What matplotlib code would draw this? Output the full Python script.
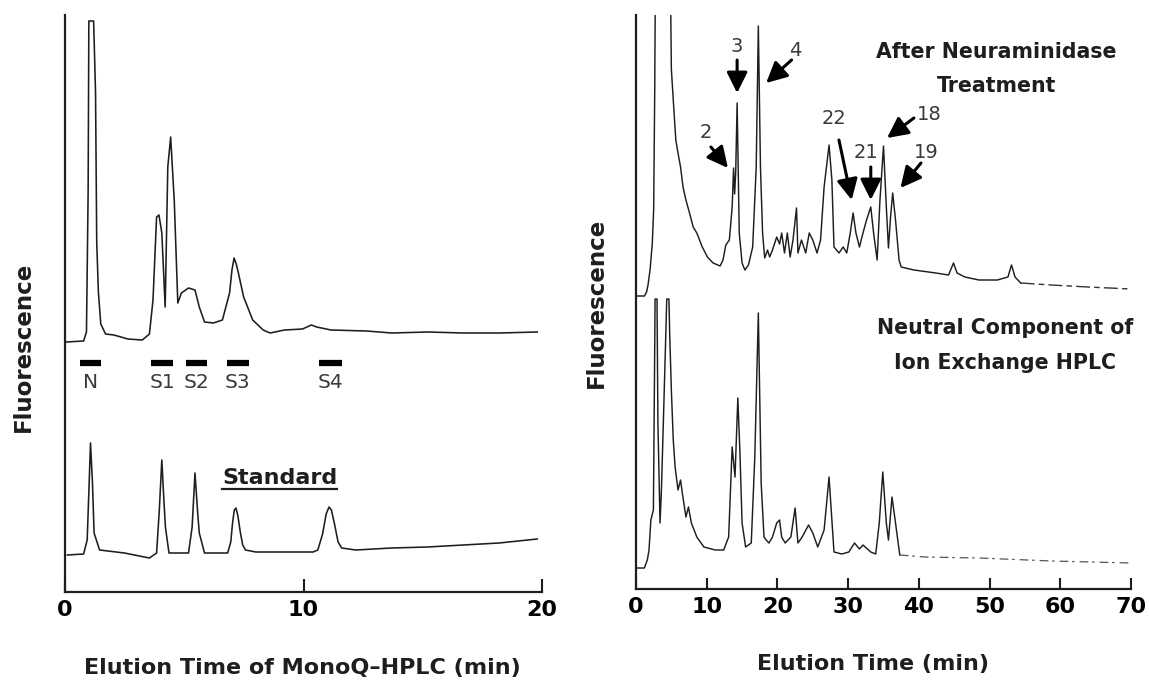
import matplotlib
matplotlib.use("Agg")
import matplotlib.pyplot as plt
from matplotlib.lines import Line2D

plt.rcParams['font.family'] = ['DejaVu Sans']

# ---- MonoQ-HPLC (left panel), fluorescence in arbitrary units ----
sample_time = [0.05, 0.78, 0.9, 0.97, 1.0, 1.2, 1.28, 1.33, 1.4, 1.5, 1.7, 2.05, 2.64,
               3.24, 3.54, 3.69, 3.84, 3.94, 4.06, 4.2, 4.31, 4.43, 4.58, 4.73, 4.88,
               5.18, 5.45, 5.63, 5.85, 6.22, 6.6, 6.9, 7.0, 7.09, 7.18, 7.27, 7.49, 7.87,
               8.31, 8.6, 9.2, 9.96, 10.33, 10.55, 11.15, 12.64, 13.7, 15.2, 16.7, 18.2, 19.8]
sample_signal = [250, 251, 260, 400, 571, 571, 500, 350, 300, 268, 258, 257, 253,
                 252, 258, 292, 375, 377, 359, 285, 425, 455, 392, 289, 299,
                 304, 302, 285, 270, 269, 272, 299, 322, 334, 328, 319, 295, 272,
                 262, 259, 262, 263, 267, 265, 262, 261, 259, 260, 259, 259, 260]

standard_time = [0.1, 0.78, 0.93, 1.0, 1.07, 1.15, 1.22, 1.45, 2.49, 3.54, 3.84, 3.95,
                 4.06, 4.15, 4.21, 4.36, 5.18, 5.33, 5.45, 5.56, 5.63, 5.85, 6.82, 6.95,
                 7.03, 7.1, 7.17, 7.25, 7.35, 7.45, 7.57, 8.0, 9.2, 10.4, 10.6, 10.8,
                 10.95, 11.07, 11.17, 11.3, 11.45, 11.6, 12.19, 13.7, 15.2, 16.7, 18.2, 19.8]
standard_signal = [37, 38, 52, 100, 149, 110, 59, 42, 39, 34, 39, 80,
                   132, 90, 65, 39, 39, 65, 119, 80, 59, 39, 39, 50,
                   70, 82, 84, 76, 60, 47, 42, 40, 40, 40, 42, 58,
                   78, 85, 82, 68, 50, 44, 42, 44, 45, 47, 49, 53]

fraction_names = ["N", "S1", "S2", "S3", "S4"]
fraction_start = [0.63, 3.61, 5.07, 6.78, 10.66]
fraction_end = [1.52, 4.54, 5.96, 7.72, 11.6]

# ---- Reversed-phase HPLC (right panel) ----
neur_time = [0, 1.2, 1.5, 1.7, 2.0, 2.3, 2.5, 2.65, 2.75, 4.85, 5.0, 5.27, 5.63, 6.04,
             6.3, 6.65, 7.06, 7.57, 8.09, 8.6, 9.37, 10.1, 10.9, 11.9, 12.3, 12.7, 13.2,
             13.6, 13.8, 13.95, 14.1, 14.3, 14.6, 15.0, 15.4, 15.9, 16.5, 17.0, 17.3,
             17.6, 17.9, 18.2, 18.6, 18.9, 19.3, 19.9, 20.3, 20.6, 21.0, 21.4, 21.8,
             22.2, 22.7, 22.9, 23.4, 24.0, 24.5, 25.0, 25.6, 26.1, 26.6, 27.3, 27.7,
             28.0, 28.7, 29.3, 29.8, 30.3, 30.7, 31.1, 31.6, 32.1, 32.6, 33.2, 33.6,
             34.1, 34.5, 35.0, 35.4, 35.7, 36.0, 36.3, 36.7, 37.2, 37.5, 39.3, 42.4,
             44.2, 44.9, 45.4, 46.5, 48.5, 51.1, 52.6, 53.1, 53.6, 54.4, 58.7, 63.9, 70]
neur_signal = [293, 293, 297, 304, 320, 345, 380, 500, 620, 620, 520, 489, 449, 432,
               422, 402, 389, 376, 362, 356, 342, 332, 326, 323, 329, 344, 349,
               382, 421, 395, 417, 486, 356, 326, 319, 324, 342, 422, 563,
               422, 356, 331, 339, 332, 339, 352, 345, 356, 336, 356, 332,
               349, 381, 336, 349, 336, 356, 349, 336, 349, 402, 444, 409,
               342, 336, 342, 336, 356, 376, 356, 342, 356, 369, 382, 356,
               329, 389, 443, 382, 341, 372, 396, 369, 329, 322, 319, 316,
               314, 326, 316, 312, 309, 309, 312, 324, 312, 306, 304, 302, 300]

neutral_time = [0, 1.18, 1.6, 1.84, 2.1, 2.46, 2.6, 2.7, 2.97, 3.1, 3.4, 3.6, 4.0,
                4.35, 4.66, 4.76, 5.0, 5.27, 5.53, 5.94, 6.3, 6.55, 7.06, 7.42, 7.83,
                8.6, 9.6, 11.2, 12.4, 13.1, 13.6, 14.0, 14.4, 14.7, 15.0, 15.5, 16.3,
                16.8, 17.3, 17.7, 18.1, 18.4, 18.8, 19.3, 19.9, 20.3, 20.6, 21.1, 21.9,
                22.5, 22.9, 23.5, 24.4, 25.0, 25.7, 26.6, 27.3, 27.7, 28.0, 29.1, 30.1,
                30.9, 31.6, 32.1, 33.2, 33.9, 34.4, 34.9, 35.4, 35.7, 36.2, 36.7, 37.3,
                40.8, 48.5, 58.8, 70]
neutral_signal = [21, 21, 29, 39, 69, 79, 200, 290, 290, 166, 66, 100, 200,
                  290, 290, 256, 199, 149, 122, 99, 109, 96, 72, 82, 66,
                  52, 42, 39, 39, 52, 142, 112, 191, 136, 66, 42, 46,
                  132, 276, 106, 52, 49, 46, 52, 66, 69, 52, 46, 52,
                  81, 46, 52, 64, 56, 42, 59, 112, 69, 37, 35, 37,
                  46, 40, 44, 37, 35, 66, 117, 66, 49, 92, 66, 34,
                  32, 31, 28, 26]

INK = "#1e1e1e"
fig = plt.figure(figsize=(11.49, 6.88), dpi=100)

# ---------------- left panel ----------------
axL = fig.add_axes([65 / 1149, 1 - 592 / 688, 477 / 1149, 577 / 688])
axL.plot(sample_time, sample_signal, color=INK, lw=1.15)
axL.plot(standard_time, standard_signal, color=INK, lw=1.15)
for name, a, b in zip(fraction_names, fraction_start, fraction_end):
    axL.plot([a, b], [229, 229], color="black", lw=4.5, solid_capstyle="butt")
    axL.text((a + b) / 2, 209, name, ha="center", va="center", fontsize=14.5,
             color="#3a3a3a")
std_txt = axL.text(9.0, 114, "Standard", ha="center", va="center", fontsize=16,
                   fontweight="bold", color=INK)
axL.set_xlim(0, 20)
axL.set_ylim(0, 577)
axL.set_xticks([0, 10, 20])
axL.set_yticks([])

# ---------------- right panel ----------------
axR = fig.add_axes([636 / 1149, 1 - 589 / 688, 495 / 1149, 574 / 688])
# solid part of each run, then the faint late tail as a broken trace
n_up = neur_time.index(54.4) + 1
n_lo = neutral_time.index(37.3) + 1
axR.plot(neur_time[:n_up], neur_signal[:n_up], color=INK, lw=1.05)
axR.plot(neur_time[n_up - 1:], neur_signal[n_up - 1:], color="#333333", lw=1.0,
         linestyle=(0, (10, 3, 4, 3)))
axR.plot(neutral_time[:n_lo], neutral_signal[:n_lo], color=INK, lw=1.05)
axR.plot(neutral_time[n_lo - 1:], neutral_signal[n_lo - 1:], color="#555555", lw=0.9,
         linestyle=(0, (7, 3, 2, 4)))
axR.set_xlim(0, 70)
axR.set_ylim(0, 574)
axR.set_xticks(range(0, 71, 10))
axR.set_yticks([])

for ax, tl in ((axL, 9.5), (axR, 8)):
    for s in ("top", "right"):
        ax.spines[s].set_visible(False)
    for s in ("left", "bottom"):
        ax.spines[s].set_linewidth(1.6)
        ax.spines[s].set_color(INK)
    ax.tick_params(axis="x", direction="in", length=tl, width=1.5, color=INK,
                   pad=6, labelsize=16)
    for lab in ax.get_xticklabels():
        lab.set_fontweight("bold")
    ax.patch.set_visible(False)

# peak annotations
arrow = dict(arrowstyle="-|>,head_length=0.9,head_width=0.45", lw=2.2,
             color="black", mutation_scale=14, shrinkA=0, shrinkB=0)
marks = [  # label, label pos, arrow tail, arrow tip
    ("2", (9.9, 457), (10.6, 442), (13.0, 421)),
    ("3", (14.3, 542), (14.3, 529), (14.3, 496)),
    ("4", (22.5, 539), (22.0, 529), (18.4, 506)),
    ("22", (28.0, 471), (28.7, 449), (30.5, 389)),
    ("21", (32.5, 436), (33.2, 422), (33.2, 389)),
    ("18", (41.5, 474), (39.3, 471), (35.5, 451)),
    ("19", (41.1, 437), (40.3, 426), (37.4, 401)),
]
for lab, pos, tail, tip in marks:
    axR.annotate("", xy=tip, xytext=tail, arrowprops=arrow)
    axR.text(pos[0], pos[1], lab, ha="center", va="center", fontsize=14,
             color="#3a3a3a")

for txt, x, y in (("After Neuraminidase", 51.0, 537), ("Treatment", 51.0, 503),
                  ("Neutral Component of", 52.2, 261), ("Ion Exchange HPLC", 52.2, 226)):
    axR.text(x, y, txt, ha="center", va="center", fontsize=14.8,
             fontweight="bold", color=INK)

# axis titles
fig.text(302 / 1149, 1 - 668 / 688, "Elution Time of MonoQ\u2013HPLC (min)",
         ha="center", va="center", fontsize=16, fontweight="bold", color=INK)
fig.text(873 / 1149, 1 - 664 / 688, "Elution Time (min)",
         ha="center", va="center", fontsize=16, fontweight="bold", color=INK)
fig.text(23 / 1149, 1 - 347 / 688, "Fluorescence", rotation=90,
         ha="center", va="center", fontsize=16.5, fontweight="bold", color=INK)
fig.text(596 / 1149, 1 - 303 / 688, "Fluorescence", rotation=90,
         ha="center", va="center", fontsize=16.5, fontweight="bold", color=INK)

# underline the "Standard" caption
fig.canvas.draw()
bb = std_txt.get_window_extent(fig.canvas.get_renderer())
inv = fig.transFigure.inverted()
(x0, y0), (x1, _) = inv.transform([(bb.x0, bb.y0), (bb.x1, bb.y1)])
fig.add_artist(Line2D([x0, x1], [y0 - 0.002, y0 - 0.002], transform=fig.transFigure,
                      color=INK, lw=1.6))

fig.savefig("out.png", dpi=100)
